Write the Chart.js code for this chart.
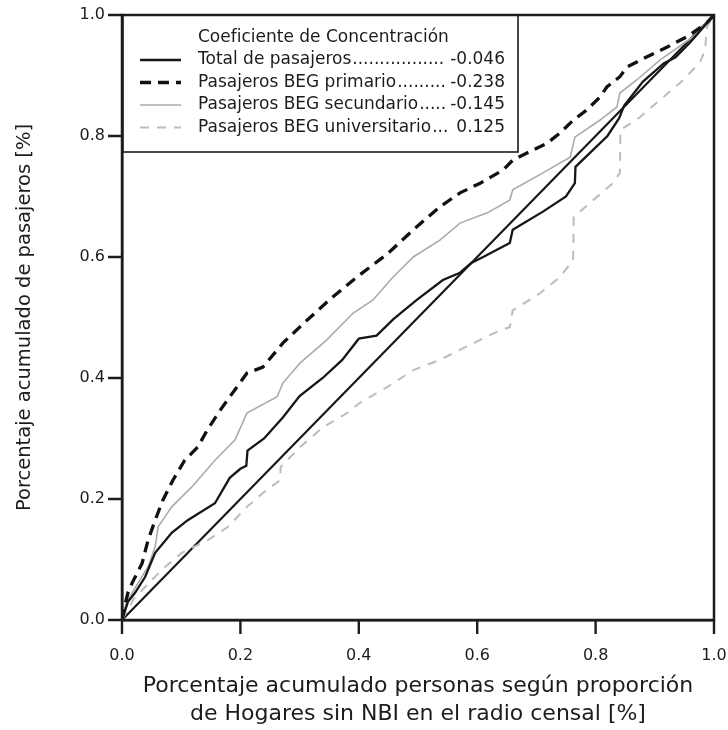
<!DOCTYPE html>
<html lang="es">
<head>
<meta charset="UTF-8">
<title>Curvas de concentración de pasajeros</title>
<style>
  body { margin: 0; background: #fff; }
  #wrap { width: 728px; height: 730px; }
</style>
</head>
<body>
<div id="wrap"><canvas id="curvas" width="728" height="730"></canvas></div>
<script src="https://cdn.jsdelivr.net/npm/chart.js"></script>
<script>
// valores (proporcion acumulada)
const xTotal = [0, 0.01, 0.022, 0.039, 0.056, 0.084, 0.111, 0.157, 0.182, 0.2, 0.21, 0.212, 0.24, 0.272, 0.3, 0.339, 0.372, 0.4, 0.43, 0.458, 0.498, 0.542, 0.571, 0.59, 0.61, 0.655, 0.66, 0.711, 0.75, 0.765, 0.766, 0.82, 0.84, 0.848, 0.88, 0.915, 0.935, 0.96, 1];
const yTotal = [0, 0.03, 0.045, 0.071, 0.111, 0.144, 0.165, 0.193, 0.235, 0.25, 0.255, 0.28, 0.3, 0.335, 0.37, 0.4, 0.43, 0.465, 0.47, 0.497, 0.529, 0.562, 0.574, 0.59, 0.6, 0.623, 0.645, 0.675, 0.7, 0.722, 0.749, 0.8, 0.83, 0.85, 0.89, 0.92, 0.93, 0.955, 1];

const xPrimario = [0, 0.005, 0.01, 0.017, 0.034, 0.044, 0.056, 0.069, 0.086, 0.106, 0.128, 0.144, 0.166, 0.211, 0.238, 0.272, 0.313, 0.356, 0.397, 0.448, 0.492, 0.537, 0.571, 0.605, 0.644, 0.66, 0.684, 0.718, 0.74, 0.762, 0.785, 0.807, 0.819, 0.841, 0.853, 0.887, 0.921, 0.954, 0.988, 1];
const yPrimario = [0, 0.025, 0.045, 0.061, 0.094, 0.132, 0.165, 0.198, 0.231, 0.264, 0.286, 0.314, 0.347, 0.408, 0.418, 0.458, 0.496, 0.534, 0.567, 0.605, 0.645, 0.683, 0.706, 0.722, 0.744, 0.76, 0.772, 0.788, 0.805, 0.826, 0.843, 0.864, 0.881, 0.898, 0.914, 0.931, 0.947, 0.964, 0.987, 1];

const xSecundario = [0, 0.003, 0.01, 0.027, 0.044, 0.056, 0.061, 0.084, 0.118, 0.157, 0.191, 0.211, 0.262, 0.272, 0.301, 0.346, 0.39, 0.424, 0.458, 0.492, 0.537, 0.571, 0.617, 0.655, 0.66, 0.711, 0.757, 0.765, 0.807, 0.836, 0.841, 0.87, 0.909, 0.965, 1];
const ySecundario = [0, 0.017, 0.033, 0.061, 0.088, 0.121, 0.154, 0.187, 0.22, 0.264, 0.298, 0.342, 0.369, 0.392, 0.425, 0.463, 0.507, 0.529, 0.567, 0.6, 0.628, 0.656, 0.673, 0.694, 0.711, 0.739, 0.765, 0.798, 0.826, 0.848, 0.871, 0.893, 0.926, 0.964, 1];

const xUniversitario = [0, 0.02, 0.05, 0.073, 0.101, 0.145, 0.179, 0.211, 0.238, 0.267, 0.268, 0.301, 0.34, 0.38, 0.402, 0.448, 0.492, 0.537, 0.605, 0.639, 0.655, 0.66, 0.706, 0.74, 0.762, 0.763, 0.796, 0.829, 0.841, 0.842, 0.875, 0.909, 0.943, 0.976, 0.985, 0.988, 1];
const yUniversitario = [0, 0.035, 0.066, 0.088, 0.111, 0.132, 0.154, 0.187, 0.21, 0.231, 0.253, 0.286, 0.319, 0.342, 0.359, 0.385, 0.413, 0.43, 0.463, 0.479, 0.484, 0.512, 0.54, 0.567, 0.595, 0.666, 0.694, 0.722, 0.739, 0.81, 0.831, 0.86, 0.888, 0.921, 0.942, 0.98, 1];

// recta de equidistribucion
const xIgualdad = [0, 1];
const yIgualdad = [0, 1];

const nombres = ['Total de pasajeros', 'Pasajeros BEG primario', 'Pasajeros BEG secundario', 'Pasajeros BEG universitario'];
const coeficientes = ['-0.046', '-0.238', '-0.145', '0.125'];
const tituloLeyenda = 'Coeficiente de Concentración';
const tickValues = [0, 0.2, 0.4, 0.6, 0.8, 1.0];

const FONT = 'DejaVu Sans';
const INK = '#1c1c1c';
const TICK_LEN = 14;

function puntos(xs, ys) {
    return xs.map((x, i) => ({ x: x, y: ys[i] }));
}

function serie(label, xs, ys, color, width, dash) {
    return {
        label: label,
        data: puntos(xs, ys),
        showLine: true,
        borderColor: color,
        backgroundColor: color,
        borderWidth: width,
        borderDash: dash,
        pointRadius: 0,
        tension: 0,
        fill: false
    };
}

// leyenda dentro del area del grafico, con puntos guia y coeficientes
const leyendaPlugin = {
    id: 'leyendaCoef',
    afterDatasetsDraw(chart) {
        const ctx = chart.ctx;
        const a = chart.chartArea;
        const box = { x: a.left + 1, y: a.top, w: 395, h: 137 };
        ctx.save();
        ctx.fillStyle = '#fff';
        ctx.fillRect(box.x, box.y, box.w, box.h);
        ctx.strokeStyle = INK;
        ctx.lineWidth = 1.6;
        ctx.strokeRect(box.x, box.y, box.w, box.h);

        ctx.font = '17px "' + FONT + '"';
        ctx.fillStyle = INK;
        ctx.textBaseline = 'middle';
        ctx.textAlign = 'left';
        const textX = box.x + 75;
        ctx.fillText(tituloLeyenda, textX, box.y + 23);

        const valRight = box.x + 382;
        const dotW = ctx.measureText('.').width;
        nombres.forEach((n, i) => {
            const y = box.y + 45 + i * 22.5;
            const ds = chart.data.datasets[i];
            ctx.save();
            ctx.strokeStyle = ds.borderColor;
            ctx.lineWidth = ds.borderWidth;
            ctx.setLineDash(ds.borderDash || []);
            ctx.beginPath();
            ctx.moveTo(box.x + 17, y);
            ctx.lineTo(box.x + 58, y);
            ctx.stroke();
            ctx.restore();

            ctx.textAlign = 'left';
            ctx.fillText(n, textX, y);
            const endLabel = textX + ctx.measureText(n).width + 1;
            ctx.textAlign = 'right';
            ctx.fillText(coeficientes[i], valRight, y);
            const startVal = valRight - ctx.measureText(coeficientes[i]).width - 3;
            const nDots = Math.max(0, Math.floor((startVal - endLabel) / dotW));
            ctx.textAlign = 'left';
            ctx.fillText('.'.repeat(nDots), endLabel, y);
        });
        ctx.restore();
    }
};

// marco completo y marcas de graduacion hacia afuera
const marcoPlugin = {
    id: 'marco',
    afterDraw(chart) {
        const a = chart.chartArea;
        const ctx = chart.ctx;
        const sx = chart.scales.x;
        const sy = chart.scales.y;
        ctx.save();
        ctx.strokeStyle = INK;
        ctx.lineWidth = 2.5;
        ctx.strokeRect(a.left, a.top, a.right - a.left, a.bottom - a.top);
        ctx.lineWidth = 2.4;
        ctx.beginPath();
        tickValues.forEach(v => {
            const px = sx.getPixelForValue(v);
            ctx.moveTo(px, a.bottom);
            ctx.lineTo(px, a.bottom + TICK_LEN);
            const py = sy.getPixelForValue(v);
            ctx.moveTo(a.left, py);
            ctx.lineTo(a.left - TICK_LEN, py);
        });
        ctx.stroke();
        ctx.restore();
    }
};

const ctx = document.getElementById('curvas').getContext('2d');
const chart = new Chart(ctx, {
    type: 'scatter',
    data: {
        datasets: [
            serie(nombres[0], xTotal, yTotal, '#161616', 2.3, []),
            serie(nombres[1], xPrimario, yPrimario, '#111111', 3.3, [11, 7]),
            serie(nombres[2], xSecundario, ySecundario, '#ababab', 1.6, []),
            serie(nombres[3], xUniversitario, yUniversitario, '#bcbcbc', 2, [9, 8]),
            serie('Igualdad', xIgualdad, yIgualdad, '#161616', 2.2, [])
        ]
    },
    options: {
        responsive: false,
        animation: false,
        layout: { padding: { top: 15, right: 0, bottom: 0, left: 0 } },
        plugins: {
            legend: { display: false },
            tooltip: { enabled: false }
        },
        scales: {
            x: {
                type: 'linear',
                min: 0,
                max: 1,
                afterBuildTicks: s => { s.ticks = tickValues.map(v => ({ value: v })); },
                afterFit: s => { s.height = 110; s.paddingRight = 14; },
                ticks: {
                    callback: v => v.toFixed(1),
                    font: { family: FONT, size: 16 },
                    color: INK,
                    padding: 3,
                    maxRotation: 0
                },
                grid: { drawOnChartArea: false, tickLength: 23, tickColor: 'rgba(0,0,0,0)' },
                border: { color: INK, width: 2.5 },
                title: {
                    display: true,
                    text: ['Porcentaje acumulado personas según proporción', 'de Hogares sin NBI en el radio censal [%]'],
                    font: { family: FONT, size: 22, lineHeight: 1.27 },
                    color: INK,
                    padding: { top: 0, bottom: 2 }
                }
            },
            y: {
                type: 'linear',
                min: 0,
                max: 1,
                afterBuildTicks: s => { s.ticks = tickValues.map(v => ({ value: v })); },
                afterFit: s => { s.width = 122; },
                ticks: {
                    callback: v => v.toFixed(1),
                    font: { family: FONT, size: 16 },
                    color: INK,
                    padding: 3
                },
                grid: { drawOnChartArea: false, tickLength: TICK_LEN, tickColor: 'rgba(0,0,0,0)' },
                border: { color: INK, width: 2.5 },
                title: {
                    display: true,
                    text: 'Porcentaje acumulado de pasajeros [%]',
                    font: { family: FONT, size: 19.5 },
                    color: INK,
                    padding: { top: 13, bottom: 0 }
                }
            }
        }
    },
    plugins: [leyendaPlugin, marcoPlugin]
});
</script>
</body>
</html>
